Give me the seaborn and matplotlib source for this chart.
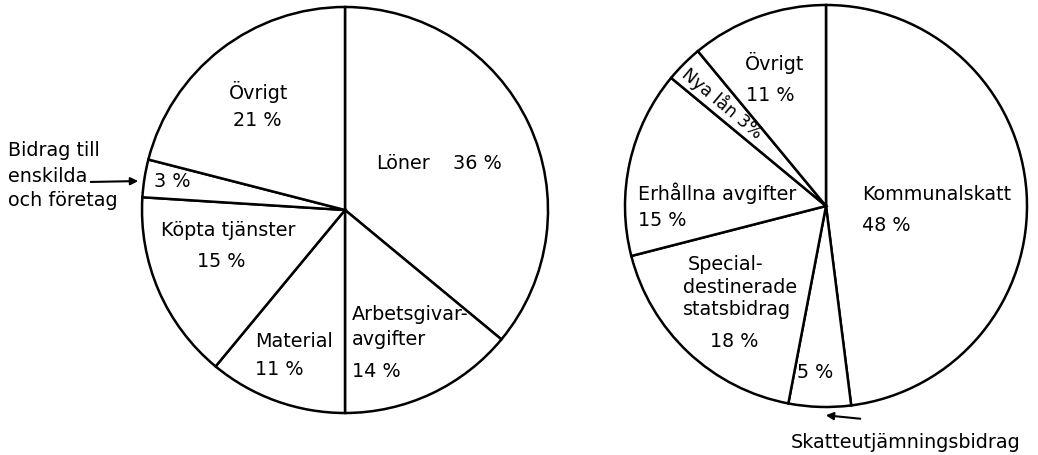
import matplotlib
matplotlib.use("Agg")
import matplotlib.pyplot as plt
from matplotlib.patches import FancyArrowPatch
import seaborn as sns

sns.set_theme(style="white")
plt.rcParams['font.family'] = ['DejaVu Sans']

# Utgifter (left) and inkomster (right), clockwise from twelve o'clock
utg_names = ['Löner', 'Arbetsgivaravgifter', 'Material', 'Köpta tjänster',
             'Bidrag till enskilda och företag', 'Övrigt']
utg_pct = [36, 14, 11, 15, 3, 21]

ink_names = ['Kommunalskatt', 'Skatteutjämningsbidrag',
             'Specialdestinerade statsbidrag', 'Erhållna avgifter',
             'Nya lån', 'Övrigt']
ink_pct = [48, 5, 18, 15, 3, 11]

W, H = 1038, 455
fig = plt.figure(figsize=(W / 100, H / 100), dpi=100)
fig.patch.set_facecolor('white')
PAD = 1.02


def pie_axes(cx, cy, r):
    # square axes centred on (cx, cy), pixels measured from the top-left
    s = 2 * r * PAD
    return fig.add_axes([(cx - s / 2) / W, (H - cy - s / 2) / H, s / W, s / H])


def draw_pie(ax, values):
    ax.pie(values, startangle=90, counterclock=False, radius=1.0,
           colors=['white'] * len(values),
           wedgeprops=dict(edgecolor='black', linewidth=1.8))
    ax.set_xlim(-PAD, PAD)
    ax.set_ylim(-PAD, PAD)
    ax.set_aspect('equal')
    ax.axis('off')


fs = 13.8
txt = dict(fontsize=fs, color='black', va='center')

# ---- left pie: utgifter
ax1 = pie_axes(345, 210, 203)
draw_pie(ax1, utg_pct)
ax1.text(0.153, 0.227, utg_names[0], ha='left', **txt)
ax1.text(0.532, 0.227, f'{utg_pct[0]} %', ha='left', **txt)
ax1.text(0.034, -0.517, 'Arbetsgivar-', ha='left', **txt)
ax1.text(0.034, -0.640, 'avgifter', ha='left', **txt)
ax1.text(0.034, -0.798, f'{utg_pct[1]} %', ha='left', **txt)
ax1.text(-0.443, -0.650, utg_names[2], ha='left', **txt)
ax1.text(-0.443, -0.788, f'{utg_pct[2]} %', ha='left', **txt)
ax1.text(-0.576, -0.103, utg_names[3], ha='center', **txt)
ax1.text(-0.611, -0.256, f'{utg_pct[3]} %', ha='center', **txt)
ax1.text(-0.852, 0.138, f'{utg_pct[4]} %', ha='center', **txt)
ax1.text(-0.424, 0.581, utg_names[5], ha='center', **txt)
ax1.text(-0.433, 0.443, f'{utg_pct[5]} %', ha='center', **txt)

# outside label with arrow
for line, py in zip(['Bidrag till', 'enskilda', 'och företag'], [151, 176, 200]):
    fig.text(8 / W, 1 - py / H, line, ha='left', **txt)
fig.add_artist(FancyArrowPatch(
    (88 / W, 1 - 182 / H), (141 / W, 1 - 181 / H), transform=fig.transFigure,
    arrowstyle='-|>', mutation_scale=11, color='black', linewidth=1.5))

# ---- right pie: inkomster
ax2 = pie_axes(826, 206, 201)
draw_pie(ax2, ink_pct)
ax2.text(0.179, 0.055, ink_names[0], ha='left', **txt)
ax2.text(0.179, -0.095, f'{ink_pct[0]} %', ha='left', **txt)
ax2.text(-0.055, -0.826, f'{ink_pct[1]} %', ha='center', **txt)
ax2.text(-0.687, -0.289, 'Special-', ha='left', **txt)
ax2.text(-0.711, -0.403, 'destinerade', ha='left', **txt)
ax2.text(-0.711, -0.517, 'statsbidrag', ha='left', **txt)
ax2.text(-0.458, -0.672, f'{ink_pct[2]} %', ha='center', **txt)
ax2.text(-0.935, 0.065, ink_names[3], ha='left', **txt)
ax2.text(-0.935, -0.070, f'{ink_pct[3]} %', ha='left', **txt)
ax2.text(-0.517, 0.512, f'{ink_names[4]} {ink_pct[4]}%', ha='center', va='center',
         rotation=-40, rotation_mode='anchor', fontsize=12.5, color='black')
ax2.text(-0.254, 0.711, ink_names[5], ha='center', **txt)
ax2.text(-0.279, 0.552, f'{ink_pct[5]} %', ha='center', **txt)

fig.text(1020 / W, 1 - 443 / H, ink_names[1], ha='right', **txt)
fig.add_artist(FancyArrowPatch(
    (863 / W, 1 - 419 / H), (823 / W, 1 - 415 / H), transform=fig.transFigure,
    arrowstyle='-|>', mutation_scale=11, color='black', linewidth=1.5))

fig.savefig('out.png', dpi=100, facecolor='white')
